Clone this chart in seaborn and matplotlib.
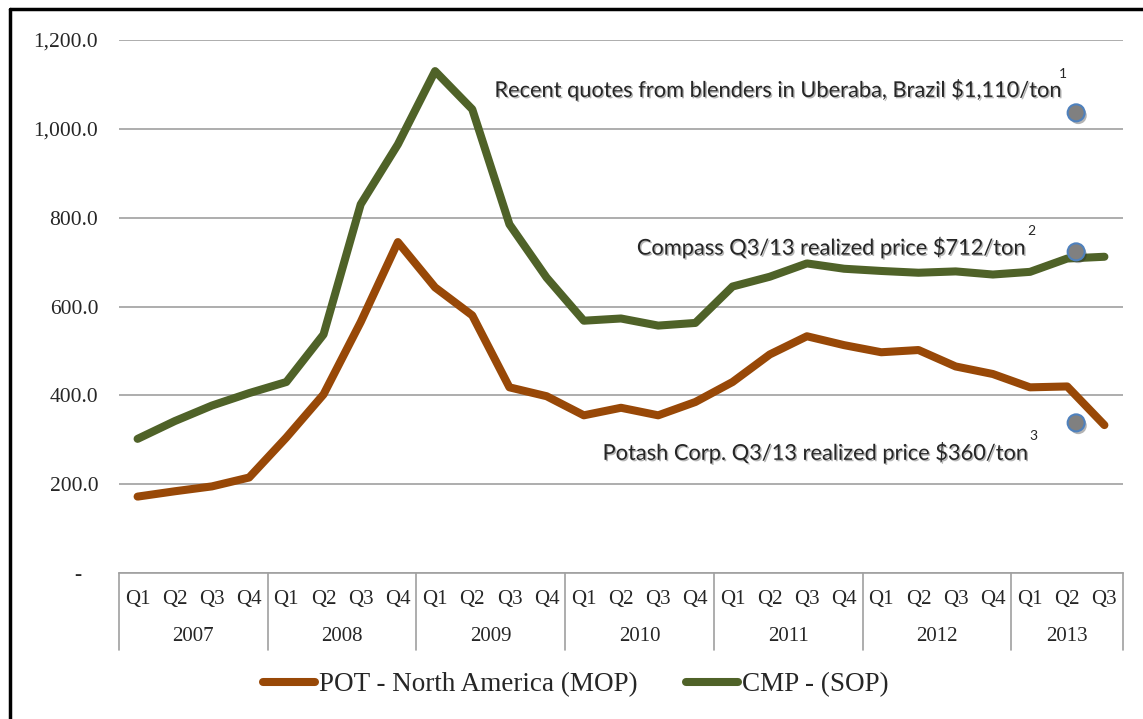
import numpy as np
import pandas as pd
import matplotlib
matplotlib.use("Agg")
import matplotlib.pyplot as plt
import matplotlib.patheffects as pe
from matplotlib.lines import Line2D
import seaborn as sns

# datos
years = ["2007", "2008", "2009", "2010", "2011", "2012", "2013"]
quarters_per_year = [4, 4, 4, 4, 4, 4, 3]
quarter_names = ["Q1", "Q2", "Q3", "Q4"]

pot_mop = [172, 184, 195, 215, 305, 402, 565, 745, 643, 580, 418, 398,
           355, 372, 355, 385, 430, 492, 533, 513, 497, 502, 465, 448,
           418, 420, 333]
cmp_sop = [302, 342, 377, 405, 430, 537, 830, 965, 1130, 1044, 785, 665,
           568, 573, 557, 563, 645, 667, 697, 685, 680, 676, 679, 672,
           678, 708, 712]

series_names = ["POT - North America (MOP)", "CMP - (SOP)"]
series_colors = ["#984807", "#4F6228"]

# puntos de referencia (precios citados)
ref_values = [1036, 723, 338]
ref_labels = ["Recent quotes from blenders in Uberaba, Brazil $1,110/ton",
              "Compass Q3/13 realized price $712/ton",
              "Potash Corp. Q3/13 realized price $360/ton"]
ref_notes = ["1", "2", "3"]

yticks = [0, 200, 400, 600, 800, 1000, 1200]

# armar el DataFrame largo
quarter_labels = []
for n in quarters_per_year:
    quarter_labels += quarter_names[:n]
idx = np.arange(len(pot_mop))
df = pd.DataFrame({
    "idx": np.concatenate([idx, idx]),
    "price": pot_mop + cmp_sop,
    "series": [series_names[0]] * len(pot_mop) + [series_names[1]] * len(cmp_sop),
})

sns.set_style("white")
plt.rcParams["font.family"] = ["Liberation Serif", "DejaVu Serif"]

fig = plt.figure(figsize=(11.43, 7.19), dpi=100)
ax = fig.add_axes([119 / 1143, 1 - 573 / 719, 1004 / 1143, 533 / 719])

sns.lineplot(data=df, x="idx", y="price", hue="series", palette=series_colors,
             hue_order=series_names, linewidth=5.8, legend=False, ax=ax,
             solid_capstyle="round", solid_joinstyle="round")

ax.set_xlim(-0.5, len(pot_mop) - 0.5)
ax.set_ylim(0, 1200)
ax.set_yticks(yticks)
ax.set_yticklabels([f"{v:,.1f}" if v > 0 else "-   " for v in yticks], fontsize=15.5)
ax.yaxis.grid(True, color="#A0A0A0", linewidth=1.2)
ax.set_axisbelow(True)
ax.tick_params(axis="y", length=0, pad=15)
ax.set_xticks([])
ax.set_xlabel("")
ax.set_ylabel("")
for s in ["left", "right", "top"]:
    ax.spines[s].set_visible(False)
ax.spines["bottom"].set_color("#A0A0A0")
ax.spines["bottom"].set_linewidth(1.2)

# tabla de categorías (trimestres / años)
tr = ax.get_xaxis_transform()
start = 0
bounds = [-0.5]
for year, n in zip(years, quarters_per_year):
    ax.text(start + (n - 1) / 2, -0.12, year, transform=tr, ha="center",
            va="center", fontsize=15)
    start += n
    bounds.append(start - 0.5)
for i, q in enumerate(quarter_labels):
    ax.text(i, -0.049, q, transform=tr, ha="center", va="center", fontsize=15)
for b in bounds:
    ax.plot([b, b], [0, -0.145], transform=tr, color="#A0A0A0", lw=1.2,
            clip_on=False)

# puntos y notas
shadow = [pe.SimplePatchShadow(offset=(1.5, -2), alpha=0.35), pe.Normal()]
ax.scatter([25.24] * len(ref_values), ref_values, s=150, color="#808080",
           edgecolor="#4F81BD", linewidth=1.5, zorder=5, path_effects=shadow)

txt_shadow = [pe.SimplePatchShadow(offset=(1, -1), alpha=0.3), pe.Normal()]
label_pos = [(24.81, 1087), (23.86, 732), (23.92, 270)]
note_pos = [(24.78, 1123), (23.92, 770), (23.97, 308)]
for lab, note, (lx, ly), (nx, ny) in zip(ref_labels, ref_notes, label_pos, note_pos):
    ax.text(lx, ly, lab, ha="right", va="center", fontsize=15.7, family="Lato",
            path_effects=txt_shadow, zorder=6)
    ax.text(nx, ny, note, ha="left", va="center", fontsize=10, family="Lato",
            zorder=6)

# leyenda
handles = [Line2D([], [], color=c, lw=5.8, solid_capstyle="round") for c in series_colors]
fig.legend(handles, series_names, loc="center", bbox_to_anchor=(576 / 1143, 1 - 685 / 719),
           ncol=2, frameon=False, fontsize=19.5, handlelength=1.9, handletextpad=0.15,
           columnspacing=1.8)

# marco de la imagen (izquierda y arriba)
fig.add_artist(Line2D([9.5 / 1143, 9.5 / 1143], [0, 1 - 9 / 719], color="black", lw=2.5))
fig.add_artist(Line2D([9.5 / 1143, 1], [1 - 9 / 719, 1 - 9 / 719], color="black", lw=2.5))

fig.savefig("out.png", dpi=100)
